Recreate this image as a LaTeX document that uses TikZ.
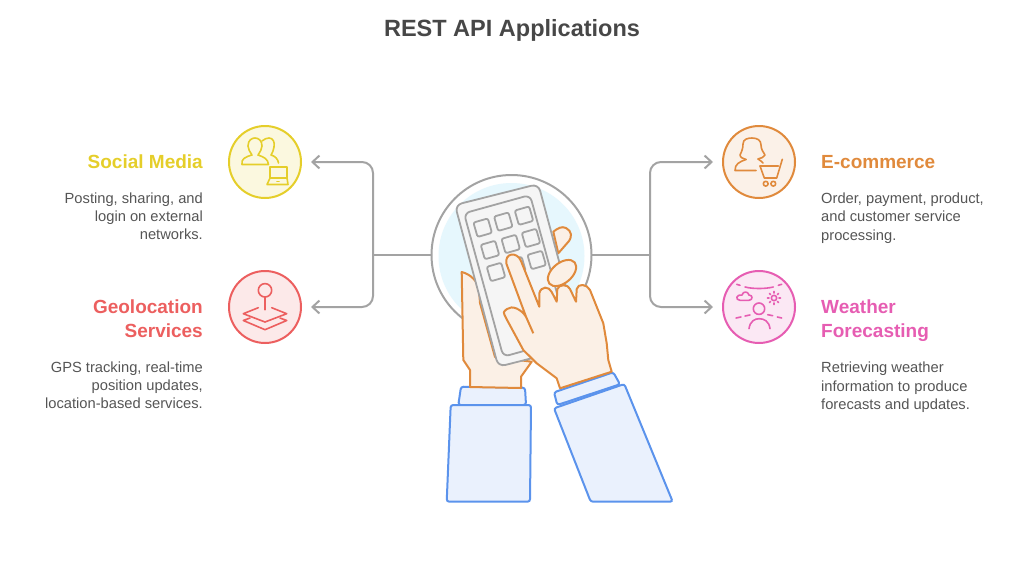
\documentclass[tikz,border=0pt]{standalone}
\usepackage{fontspec}
\setmainfont{Liberation Sans}
\usepackage{xcolor}
\usetikzlibrary{positioning,calc,arrows.meta}
\definecolor{linkgray}{HTML}{A3A3A3}
\definecolor{textgray}{HTML}{555555}
\definecolor{socialc}{HTML}{E5CE2A}
\definecolor{geoc}{HTML}{EC5F5F}
\definecolor{shopc}{HTML}{E08A3C}
\definecolor{weatherc}{HTML}{E65DB2}
\definecolor{sleevec}{HTML}{5B93EC}

\begin{document}
\begin{tikzpicture}[x=1pt,y=-1pt,
    iconring/.style={circle, draw, line width=2pt, minimum size=72pt, inner sep=0pt, outer sep=0pt},
    icon/.style={line width=1.6pt, line cap=round, line join=round},
    link/.style={draw=linkgray, line width=2pt, rounded corners=11pt},
    linktip/.style={-{Straight Barb[length=7pt,width=13pt]}, shorten >=10pt},
    headleft/.style={font=\fontsize{19}{24}\selectfont\bfseries, align=right, inner sep=0pt},
    headright/.style={font=\fontsize{19}{24}\selectfont\bfseries, align=left, inner sep=0pt},
    bodyleft/.style={font=\fontsize{14.7}{18.3}\selectfont, text=textgray, align=right, inner sep=0pt, anchor=north east},
    bodyright/.style={font=\fontsize{14.7}{18.3}\selectfont, text=textgray, align=left, inner sep=0pt, anchor=north west},
    hand/.style={draw=shopc, fill=shopc!13, line width=2pt, line join=round},
    sleeve/.style={draw=sleevec, fill=sleevec!13, line width=2pt, rounded corners=2.5pt},
    phonepart/.style={draw=linkgray, line width=1.8pt, fill=black!4},
    key/.style={phonepart, rectangle, rotate=16, rounded corners=2pt, minimum size=15pt, inner sep=0pt}]
  \useasboundingbox (0,0) rectangle (1024,584);

  \node[font=\fontsize{23.5}{28}\selectfont\bfseries, text=black!72] (title) at (512,30) {REST API Applications};

  \node[circle, draw=linkgray, line width=2pt, fill=white, minimum size=160pt, inner sep=0pt, outer sep=0pt] (hub) at (511.5,255) {};
  \node[circle, fill=cyan!10, minimum size=146pt, inner sep=0pt] (glow) at (511.5,256) {};

  \node[iconring, draw=socialc, fill=socialc!15] (social) at (265,162) {};
  \node[iconring, draw=geoc, fill=geoc!14] (geo) at (265,307) {};
  \node[iconring, draw=shopc, fill=shopc!12] (shop) at (759,162) {};
  \node[iconring, draw=weatherc, fill=weatherc!14] (weather) at (759,307) {};

  \coordinate (trunkleft) at (373,255);
  \coordinate (trunkright) at (650,255);
  \draw[link] (hub.west) -- (trunkleft);
  \draw[link] (hub.east) -- (trunkright);
  \draw[link, linktip] (trunkleft) |- (social.east);
  \draw[link, linktip] (trunkleft) |- (geo.east);
  \draw[link, linktip] (trunkright) |- (shop.west);
  \draw[link, linktip] (trunkright) |- (weather.west);

  \node[headleft, text=socialc, left=26pt of social] (socialhead) {Social Media};
  \node[bodyleft] (socialtext) at ([yshift=-23pt]socialhead.south east) {Posting, sharing, and\\login on external\\networks.};
  \node[headleft, text=geoc, left=26pt of geo, yshift=-12pt] (geohead) {Geolocation\\Services};
  \node[bodyleft] (geotext) at ([yshift=-23pt]geohead.south east) {GPS tracking, real-time\\position updates,\\location-based services.};
  \node[headright, text=shopc, right=26pt of shop] (shophead) {E-commerce};
  \node[bodyright] (shoptext) at ([yshift=-24pt]shophead.south west) {Order, payment, product,\\and customer service\\processing.};
  \node[headright, text=weatherc, right=26pt of weather, yshift=-14pt] (weatherhead) {Weather\\Forecasting};
  \node[bodyright] (weathertext) at ([yshift=-20pt]weatherhead.south west) {Retrieving weather\\information to produce\\forecasts and updates.};

  \begin{scope}[shift={(social.center)}, icon, draw=socialc]
    \draw (3.5,2.5) -- (-23,2.5) .. controls (-24,-3) and (-20,-5) .. (-13,-7) .. controls (-15,-10) and (-17,-13) .. (-17,-16) .. controls (-17,-22) and (-13,-24) .. (-10,-24) .. controls (-6,-24) and (-3,-21) .. (-3,-16) .. controls (-3,-13) and (-5,-10) .. (-7,-7) .. controls (-1,-5) and (3,-3) .. cycle;
    \draw (-3,-21) .. controls (-1,-23) and (2,-24) .. (4,-24) .. controls (8,-24) and (10,-20) .. (9,-15) .. controls (9,-12) and (7,-9) .. (6,-7) .. controls (10,-6) and (13,-3) .. (13.5,1);
    \draw (5,16) -- (5,5) -- (22,5) -- (22,16);
    \draw (5,16) -- (2,22.5) -- (23,22.5) -- (22,16) -- cycle;
    \draw (12,19.5) -- (14,19.5);
  \end{scope}

  \begin{scope}[shift={(geo.center)}, icon, draw=geoc]
    \draw (0,-16.7) circle (6.7);
    \draw (0,-10) -- (0,2.7);
    \draw (-6.7,0.7) -- (-21.7,6.7) -- (0,15) -- (21.7,6.7) -- (6.7,0.7);
    \draw (-15,11) -- (-21.7,13.5) -- (0,22.7) -- (21.7,13.5) -- (15,11);
  \end{scope}

  \begin{scope}[shift={(shop.center)}, icon, draw=shopc]
    \draw (-3,8.5) -- (-24,8.5) .. controls (-24,2) and (-20,0) .. (-13,-2.5);
    \draw (-13,-2.5) .. controls (-16,-3) and (-19,-5) .. (-19,-7) .. controls (-17,-11) and (-16,-14) .. (-16,-18) .. controls (-16,-23) and (-11,-24) .. (-7,-24) .. controls (-2,-24) and (2,-22) .. (2,-17) .. controls (2,-13) and (4,-10) .. (6,-7) .. controls (5,-5) and (2,-3.5) .. (-1,-3);
    \draw (-1,-3) .. controls (1,-1.5) and (3,-0.5) .. (4,1);
    \draw (1,4) -- (19.3,4);
    \draw (1,4) -- (5.3,16) -- (17.7,16) -- (23.3,-2.7);
    \draw (6.7,21.7) circle (2.4);
    \draw (14.3,21.7) circle (2.4);
  \end{scope}

  \begin{scope}[shift={(weather.center)}, icon, draw=weatherc]
    \draw (-22.3,-22.7) -- (-19,-21.7);
    \draw (-14,-20) .. controls (-6,-18) and (6,-18) .. (14.3,-20);
    \draw (19.3,-21.7) -- (22.7,-22.7);
    \draw (-19,-6.7) -- (-10,-6.7) .. controls (-6,-7) and (-6,-12) .. (-10,-12) .. controls (-11,-16) and (-16,-16) .. (-17,-12) .. controls (-23,-13) and (-24,-7) .. (-19,-6.7);
    \draw (15,-9) circle (2.7);
    \foreach \ang in {0,45,...,315}
      \draw ($(15,-9)+(\ang:5)$) -- ($(15,-9)+(\ang:6.5)$);
    \draw (0,1.7) circle (5.7);
    \draw (-10,21.7) .. controls (-9,14) and (-4,11.7) .. (0,11.7) .. controls (5,11.7) and (10,14) .. (11,21.7);
    \draw (-23,11) -- (-18,10);
    \draw (-14,9) -- (-9,8);
    \draw (8.7,7.7) -- (13.7,8.7);
    \draw (18.3,10) -- (22.7,11);
  \end{scope}

  \draw[sleeve] (458.3,405) -- (461,386.7) -- (525,387.7) -- (526,405) -- cycle;
  \draw[sleeve] (450.7,405) -- (531,405) -- (530,501.7) -- (446.7,501.7) -- cycle;
  \draw[sleeve] (557.3,405) -- (554,392.3) -- (613.3,372.3) -- (620,384.3) -- cycle;
  \draw[sleeve] (554,408.3) -- (624.3,384) -- (672.7,501.7) -- (590.7,501.7) -- cycle;

  \draw[hand] (553.3,231.7) .. controls (558,228) and (562,226) .. (566,228) .. controls (572,231) and (572,237) .. (569,241) -- (558.3,253.3) -- cycle;
  \draw[hand] (461.7,272) .. controls (470,274) and (478,281) .. (479,290) -- (480,303) -- (495,357) -- (531.7,361.7) -- (521,376.7) -- (521,388) -- (470,387) -- (470,370) -- (463.3,360) -- cycle;

  \draw[phonepart, rounded corners=7pt] (455,205) -- (538.3,184) -- (581.7,345.7) -- (498.3,366.7) -- cycle;
  \draw[phonepart, rounded corners=6pt] (464,213.3) -- (530,195) -- (569.3,338.3) -- (503.3,356.7) -- cycle;
  \foreach \kx/\ky [count=\k] in {482.7/227.7,503.3/221.7,524/215.7,490/250,510.7/244,531/238,496/272,516.5/266,536.7/260}
    \node[key] (key\k) at (\kx,\ky) {};

  \draw[hand, rotate around={40:(562,273)}] (562,273) ellipse (16.5 and 10);
  \draw[hand] (611.7,371.7) -- (608.3,360) -- (606.7,343.3) .. controls (605.5,333) .. (603.3,323.3) -- (590,290) .. controls (587,284) and (578,283) .. (576.7,289) -- (576,301.7) -- (570,289) .. controls (568,284) and (559,284) .. (557.3,289) -- (556.7,301.7) -- (551.7,292) .. controls (549,286) and (541,286) .. (539.3,293.3) -- (539.3,306.7) -- (521,261) .. controls (517,251) and (504,253) .. (506.5,264) -- (526,316.7) .. controls (521,309) and (512,305) .. (507,309) .. controls (503,312) .. (506,318) -- (523.3,350) -- (536.7,363.3) -- (556.7,378.3) -- (560,388.3) -- cycle;
  \draw[hand] (526,316.7) -- (533.3,333.3);
\end{tikzpicture}
\end{document}
